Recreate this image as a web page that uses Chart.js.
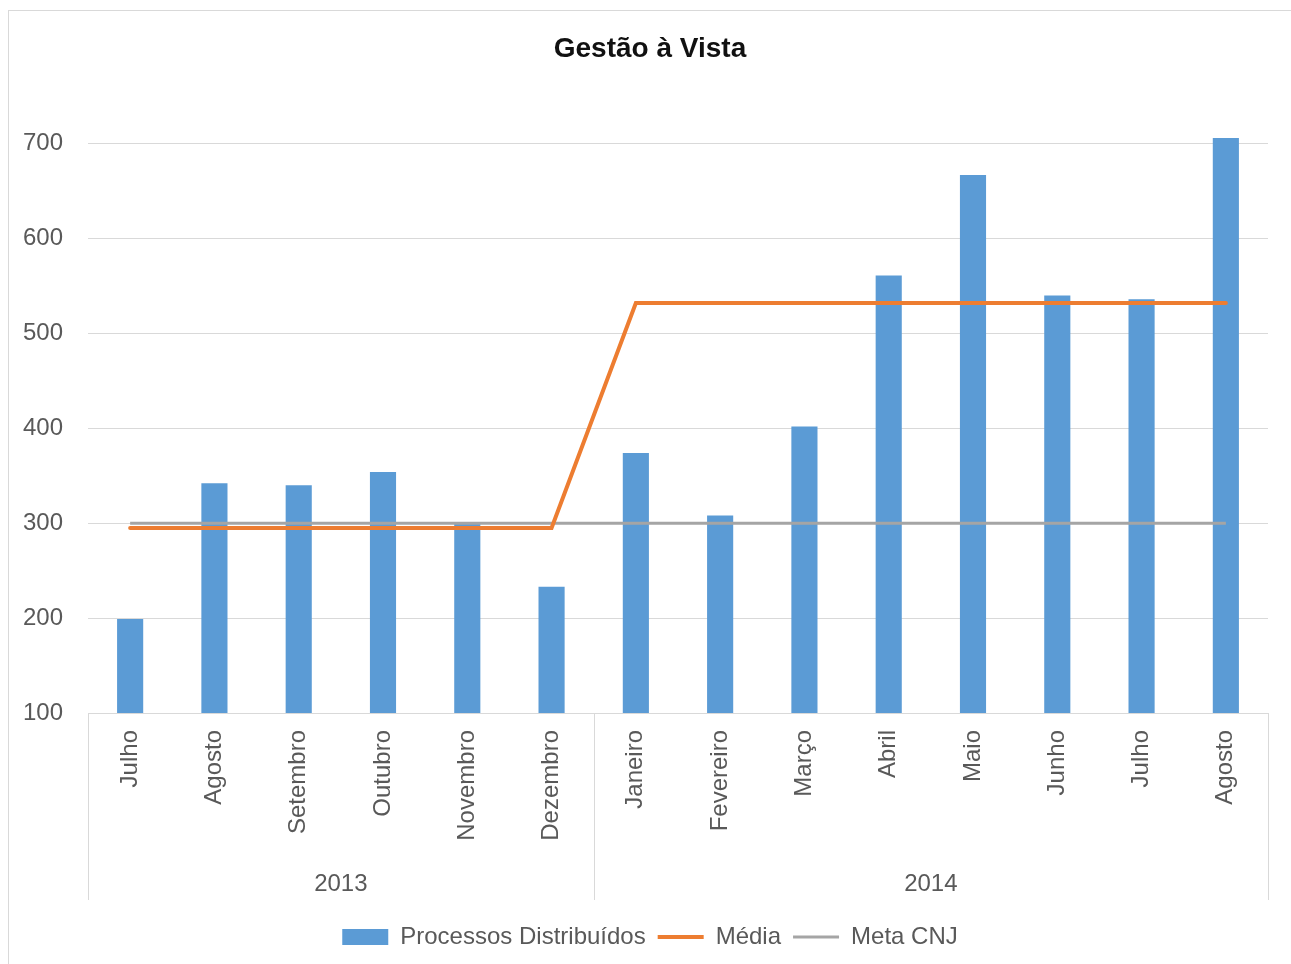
<!DOCTYPE html>
<html lang="pt">
<head>
<meta charset="utf-8">
<title>Gestão à Vista</title>
<script src="https://cdn.jsdelivr.net/npm/chart.js@4/dist/chart.umd.min.js"></script>
<style>
  html, body { margin: 0; padding: 0; background: #ffffff; overflow: hidden; }
  #wrap { position: relative; width: 1291px; height: 964px; }
  #frame {
    position: absolute; left: 8px; top: 10px; width: 1400px; height: 1100px;
    border-left: 1px solid #d9d9d9; border-top: 1px solid #d9d9d9;
    pointer-events: none;
  }
  canvas { position: absolute; left: 0; top: 0; }
</style>
</head>
<body>
<div id="wrap">
  <canvas id="chart" width="1291" height="964"></canvas>
  <div id="frame"></div>
</div>
<script>
// Months shown on the category axis, grouped by year below
const months = ['Julho', 'Agosto', 'Setembro', 'Outubro', 'Novembro', 'Dezembro',
                'Janeiro', 'Fevereiro', 'Março', 'Abril', 'Maio', 'Junho', 'Julho', 'Agosto'];
const yearLabels = ['2013', '2014'];
const yearSpans = [6, 8];

// Series
const processosDistribuidos = [199, 342, 340, 354, 300, 233, 374, 308, 402, 561, 667, 540, 536, 706];
const media = [295, 295, 295, 295, 295, 295, 532, 532, 532, 532, 532, 532, 532, 532];
const metaCNJ = [300, 300, 300, 300, 300, 300, 300, 300, 300, 300, 300, 300, 300, 300];

// Y axis ticks
const yTicks = [100, 200, 300, 400, 500, 600, 700];

const TEXT = '#595959';
const GRID = '#d9d9d9';
const FONT = "'Liberation Sans', Arial, sans-serif";

Chart.defaults.font.family = FONT;
Chart.defaults.color = TEXT;

// Title and legend are centred on the framed chart box rather than the canvas
const centreHeaderFooter = {
  id: 'centreHeaderFooter',
  afterLayout(chart) {
    if (chart.titleBlock) chart.titleBlock.left = 32;
    if (chart.legend) chart.legend.left = 32;
  }
};

// Draws the year row of the two-level category axis
const yearGroups = {
  id: 'yearGroups',
  afterDraw(chart) {
    const x = chart.scales.x;
    const ctx = chart.ctx;
    const top = x.top;
    const bottom = top + 187;
    const bounds = [x.left];
    let idx = 0;
    yearSpans.forEach((n) => {
      idx += n;
      if (idx >= months.length) {
        bounds.push(x.right);
      } else {
        bounds.push((x.getPixelForValue(idx - 1) + x.getPixelForValue(idx)) / 2);
      }
    });
    ctx.save();
    ctx.strokeStyle = GRID;
    ctx.lineWidth = 1;
    bounds.forEach((b) => {
      const px = Math.round(b) + 0.5;
      ctx.beginPath();
      ctx.moveTo(px, top);
      ctx.lineTo(px, bottom);
      ctx.stroke();
    });
    ctx.fillStyle = TEXT;
    ctx.font = '24px ' + FONT;
    ctx.textAlign = 'center';
    ctx.textBaseline = 'middle';
    yearLabels.forEach((label, i) => {
      ctx.fillText(label, (bounds[i] + bounds[i + 1]) / 2, top + 171);
    });
    ctx.restore();
  }
};

new Chart(document.getElementById('chart'), {
  type: 'bar',
  data: {
    labels: months,
    datasets: [
      {
        type: 'bar',
        label: 'Processos Distribuídos',
        data: processosDistribuidos,
        backgroundColor: '#5b9bd5',
        borderWidth: 0,
        barPercentage: 0.31,
        categoryPercentage: 1,
        pointStyle: 'rect',
        clip: { left: 0, right: 0, top: 20, bottom: 0 },
        order: 3
      },
      {
        type: 'line',
        label: 'Média',
        data: media,
        borderColor: '#ed7d31',
        backgroundColor: '#ed7d31',
        borderWidth: 4,
        borderCapStyle: 'round',
        pointRadius: 0,
        pointHoverRadius: 0,
        pointStyle: 'line',
        tension: 0,
        order: 1
      },
      {
        type: 'line',
        label: 'Meta CNJ',
        data: metaCNJ,
        borderColor: '#a5a5a5',
        backgroundColor: '#a5a5a5',
        borderWidth: 3,
        pointRadius: 0,
        pointHoverRadius: 0,
        pointStyle: 'line',
        tension: 0,
        order: 2
      }
    ]
  },
  options: {
    responsive: false,
    animation: false,
    layout: { padding: { left: 0, right: 23, top: 0, bottom: 5 } },
    plugins: {
      title: {
        display: true,
        text: 'Gestão à Vista',
        color: '#111111',
        font: { size: 28, weight: 'bold', family: FONT },
        padding: { top: 32, bottom: 78 }
      },
      legend: {
        position: 'bottom',
        labels: {
          usePointStyle: true,
          pointStyleWidth: 46,
          boxHeight: 16,
          padding: 12,
          color: TEXT,
          font: { size: 24, family: FONT },
          sort: (a, b) => a.datasetIndex - b.datasetIndex
        }
      },
      tooltip: { enabled: false }
    },
    scales: {
      x: {
        offset: true,
        grid: { display: false, drawTicks: false },
        border: { display: true, color: GRID, width: 1 },
        ticks: {
          autoSkip: false,
          minRotation: 90,
          maxRotation: 90,
          padding: 17,
          color: TEXT,
          font: { size: 24, family: FONT }
        },
        afterFit(scale) { scale.height = 200; }
      },
      y: {
        min: 100,
        max: 700,
        grid: { color: GRID, lineWidth: 1, drawTicks: false },
        border: { display: false },
        afterBuildTicks(scale) { scale.ticks = yTicks.map((v) => ({ value: v })); },
        ticks: {
          padding: 25,
          color: TEXT,
          font: { size: 24, family: FONT }
        },
        afterFit(scale) { scale.width = 88; }
      }
    }
  },
  plugins: [centreHeaderFooter, yearGroups]
});
</script>
</body>
</html>
